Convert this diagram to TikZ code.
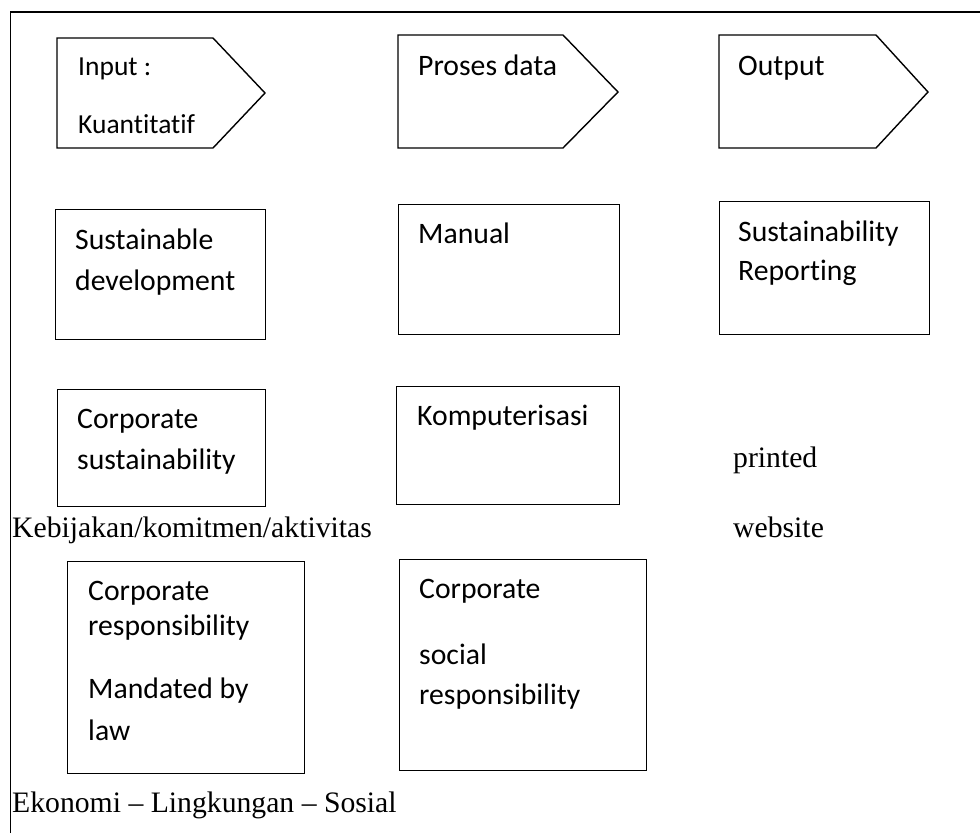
\documentclass[tikz,border=0pt]{standalone}
\usepackage{fontspec}
\usepackage{tikz}
\usetikzlibrary{positioning}
\newfontfamily\calibri[Ligatures=NoCommon]{Carlito}
\newfontfamily\timesfont{Liberation Serif}

\tikzset{
  box/.style={draw, line width=1.4pt, anchor=north west, inner sep=0pt},
  lbl/.style={anchor=base west, inner sep=0pt, font=\calibri\fontsize{29.7}{36}\selectfont},
  small/.style={anchor=base west, inner sep=0pt, font=\calibri\fontsize{27.5}{33}\selectfont},
  plain/.style={anchor=base west, inner sep=0pt, font=\timesfont\fontsize{29.7}{36}\selectfont},
}

\begin{document}
\begin{tikzpicture}[x=1pt, y=-1pt]
      \useasboundingbox (0,0) rectangle (980,833);
      % frame
      \draw[line width=1.4pt] (10.5,833) -- (10.5,12) -- (980,12);

      % top row: input, proses, output
      \draw[line width=1.4pt] (57,38) -- (213,38) -- (265,93) -- (213,148) -- (57,148) -- cycle;
      \draw[line width=1.4pt] (398,35) -- (563,35) -- (618,92) -- (563,148) -- (398,148) -- cycle;
      \draw[line width=1.4pt] (719,35) -- (876,35) -- (928,92) -- (876,148) -- (719,148) -- cycle;
      \node[small] (input) at (78,75) {Input :};
      \node[small] (kuant) at (78,133) {Kuantitatif};
      \node[lbl] (proses) at (418,75) {Proses data};
      \node[lbl] (output) at (738,75) {Output};

      % second row
      \node[box, minimum width=210, minimum height=130] (sd) at (55,209) {};
      \node[box, minimum width=221, minimum height=130] (manual) at (398,204) {};
      \node[box, minimum width=210, minimum height=133] (report) at (719,201) {};
      \node[lbl] at ([shift={(20,40)}]sd.north west) {Sustainable};
      \node[lbl] at ([shift={(20,81)}]sd.north west) {development};
      \node[lbl] at ([shift={(20,39)}]manual.north west) {Manual};
      \node[lbl] at ([shift={(19,40)}]report.north west) {Sustainability};
      \node[lbl] at ([shift={(19,79)}]report.north west) {Reporting};

      % third row
      \node[box, minimum width=208, minimum height=117] (cs) at (57,389) {};
      \node[box, minimum width=223, minimum height=118] (komp) at (396,386) {};
      \node[lbl] at ([shift={(20,39)}]cs.north west) {Corporate};
      \node[lbl] at ([shift={(20,80)}]cs.north west) {sustainability};
      \node[lbl] at ([shift={(21,39)}]komp.north west) {Komputerisasi};
      \node[plain] (printed) at (733,467) {printed};
      \node[plain] (website) at (733,537) {website};
      \node[plain] (kebijakan) at (12,537) {Kebijakan/komitmen/aktivitas};

      % fourth row
      \node[box, minimum width=237, minimum height=212] (cr) at (67,561) {};
      \node[box, minimum width=247, minimum height=211] (csr) at (399,559) {};
      \node[lbl] at ([shift={(21,39)}]cr.north west) {Corporate};
      \node[lbl] at ([shift={(21,74)}]cr.north west) {responsibility};
      \node[lbl] at ([shift={(21,137)}]cr.north west) {Mandated by};
      \node[lbl] at ([shift={(21,179)}]cr.north west) {law};
      \node[lbl] at ([shift={(20,39)}]csr.north west) {Corporate};
      \node[lbl] at ([shift={(20,105)}]csr.north west) {social};
      \node[lbl] at ([shift={(20,145)}]csr.north west) {responsibility};

      \node[plain] (ekonomi) at (12,812) {Ekonomi – Lingkungan – Sosial};
    \end{tikzpicture}
\end{document}
